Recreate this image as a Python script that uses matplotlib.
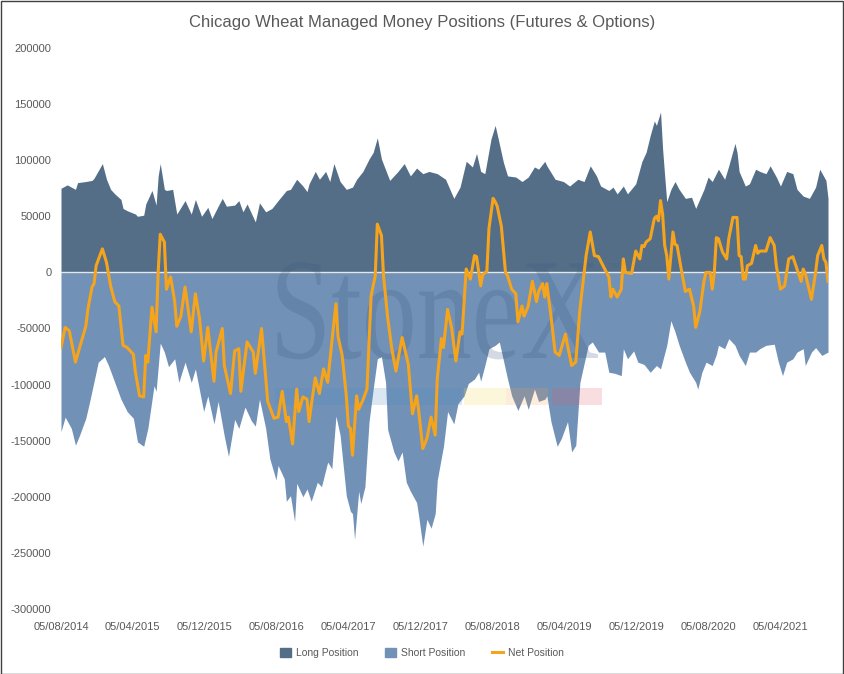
import numpy as np
import pandas as pd
import matplotlib
matplotlib.use("Agg")
from matplotlib import pyplot as plt
from matplotlib.patches import Patch, Rectangle, PathPatch
from matplotlib.lines import Line2D
from matplotlib.textpath import TextPath
from matplotlib.font_manager import FontProperties
from matplotlib.transforms import Affine2D

plt.rcParams['font.family'] = ['Liberation Sans', 'DejaVu Sans']

# settimane dal 05/08/2014 (dati COT settimanali), valori in migliaia di contratti
start = pd.Timestamp('2014-08-05')

long_week = [0, 3, 7, 8, 12, 15, 16, 20, 22, 24, 26, 29, 30, 32, 36, 37, 40, 41, 44, 46,
             47, 48, 50, 51, 54, 56, 60, 63, 65, 68, 71, 73, 76, 78, 80, 84, 86, 88, 90, 94,
             96, 99, 102, 105, 109, 111, 114, 117, 119, 120, 123, 125, 128, 130, 132, 135, 138, 141, 143, 146,
             149, 151, 153, 155, 159, 163, 166, 169, 172, 175, 178, 182, 186, 190, 193, 196, 199, 201, 203, 205,
             208, 210, 211, 214, 216, 220, 223, 226, 229, 231, 234, 235, 239, 243, 246, 250, 253, 256, 259, 261,
             265, 267, 269, 272, 274, 278, 281, 283, 285, 287, 288, 290, 291, 292, 293, 295, 297, 299, 302, 305,
             307, 311, 313, 315, 318, 321, 323, 326, 327, 328, 331, 333, 336, 338, 341, 343, 346, 348, 351, 354,
             356, 359, 362, 365, 367, 370, 371]
long_val = [75, 78, 74, 80, 81, 82, 84, 97, 83, 74, 70, 65, 57, 55, 52, 50, 51, 61, 73, 60,
            86, 97, 74, 73, 74, 52, 64, 52, 65, 50, 58, 48, 59, 66, 59, 60, 64, 54, 61, 45,
            62, 54, 57, 64, 73, 74, 83, 77, 72, 79, 90, 83, 90, 81, 97, 81, 74, 76, 83, 90,
            101, 107, 120, 101, 82, 90, 97, 86, 93, 88, 90, 88, 83, 66, 76, 99, 94, 106, 90, 88,
            119, 131, 123, 98, 86, 85, 81, 85, 94, 92, 99, 95, 83, 81, 77, 83, 81, 95, 86, 77,
            73, 76, 70, 77, 70, 79, 99, 107, 122, 135, 131, 143, 110, 86, 63, 74, 81, 74, 66, 67,
            57, 74, 85, 81, 92, 83, 95, 115, 107, 90, 77, 79, 92, 90, 88, 95, 85, 77, 90, 88,
            74, 68, 66, 76, 92, 82, 66]

short_week = [0, 2, 5, 7, 9, 12, 14, 16, 18, 21, 23, 26, 29, 32, 35, 37, 40, 42, 45, 46,
              48, 50, 52, 55, 57, 60, 63, 65, 69, 71, 74, 76, 79, 81, 84, 86, 89, 92, 94, 96,
              99, 101, 104, 105, 108, 109, 111, 113, 114, 117, 119, 121, 124, 126, 129, 131, 133, 135, 138, 140,
              141, 142, 144, 145, 147, 149, 151, 153, 155, 157, 158, 161, 163, 165, 167, 169, 172, 173, 175, 177,
              179, 181, 182, 185, 187, 190, 192, 195, 197, 200, 202, 203, 205, 207, 210, 212, 216, 218, 221, 224,
              226, 229, 231, 234, 235, 237, 240, 242, 245, 247, 249, 251, 255, 257, 260, 263, 265, 268, 271, 272,
              274, 277, 279, 282, 285, 288, 290, 293, 295, 297, 299, 302, 304, 307, 308, 310, 312, 315, 317, 318,
              321, 323, 326, 328, 331, 333, 336, 338, 341, 345, 347, 349, 351, 354, 356, 359, 360, 363, 365, 368,
              371]
short_val = [-142, -129, -139, -154, -145, -130, -114, -97, -80, -75, -83, -98, -113, -124, -130, -151, -155, -139, -101, -106,
             -63, -71, -84, -77, -98, -80, -98, -86, -124, -110, -135, -115, -146, -164, -131, -139, -120, -132, -137, -113,
             -139, -166, -185, -172, -184, -204, -199, -222, -188, -200, -193, -204, -187, -191, -169, -175, -128, -145, -199, -213,
             -215, -238, -195, -206, -191, -133, -104, -77, -75, -98, -140, -160, -168, -160, -187, -195, -205, -217, -244, -220,
             -228, -215, -185, -155, -124, -135, -117, -110, -99, -95, -89, -97, -83, -68, -65, -62, -95, -110, -123, -110,
             -122, -104, -115, -113, -110, -133, -155, -148, -133, -160, -154, -98, -65, -62, -71, -71, -89, -90, -92, -68,
             -77, -70, -80, -82, -89, -83, -86, -65, -43, -53, -65, -80, -89, -98, -104, -89, -80, -83, -73, -65,
             -68, -59, -65, -74, -83, -71, -71, -68, -65, -64, -80, -92, -80, -77, -71, -68, -83, -71, -67, -74,
             -71]

net_week = [0, 2, 4, 7, 9, 12, 13, 15, 16, 17, 20, 22, 24, 26, 28, 30, 32, 35, 36, 38,
            40, 41, 42, 44, 46, 47, 48, 50, 51, 53, 55, 56, 58, 60, 63, 65, 67, 69, 71, 74,
            75, 78, 79, 82, 84, 86, 87, 90, 93, 94, 97, 100, 103, 105, 107, 109, 110, 112, 114, 115,
            117, 119, 120, 121, 123, 125, 127, 129, 131, 133, 134, 136, 138, 139, 140, 141, 143, 144, 146, 148,
            150, 152, 153, 155, 156, 158, 160, 162, 165, 168, 170, 172, 173, 175, 177, 179, 181, 182, 184, 185,
            187, 189, 191, 193, 194, 196, 198, 200, 201, 203, 204, 206, 207, 209, 210, 211, 213, 215, 216, 218,
            220, 221, 223, 224, 226, 228, 230, 231, 233, 234, 235, 237, 239, 241, 244, 245, 247, 249, 251, 254,
            256, 258, 260, 263, 265, 266, 267, 269, 271, 272, 273, 276, 278, 280, 281, 282, 283, 285, 287, 288,
            289, 290, 291, 292, 293, 294, 296, 297, 298, 300, 302, 304, 306, 307, 309, 311, 312, 314, 315, 316,
            317, 318, 320, 322, 323, 325, 327, 328, 329, 330, 331, 332, 334, 336, 337, 338, 341, 343, 345, 346,
            348, 350, 352, 354, 356, 358, 359, 360, 363, 365, 366, 368, 369, 370, 371]
net_val = [-67, -49, -52, -80, -67, -48, -33, -13, -10, 6, 21, 9, -12, -26, -30, -65, -67, -73, -89, -110,
           -111, -74, -80, -31, -53, 0, 34, 27, -15, -4, -26, -48, -39, -13, -53, -19, -41, -79, -49, -97,
           -71, -50, -83, -108, -70, -68, -106, -62, -71, -90, -50, -115, -130, -129, -106, -133, -129, -153, -104, -124,
           -111, -113, -133, -119, -94, -108, -86, -98, -62, -28, -57, -74, -110, -137, -139, -163, -110, -122, -114, -104,
           -21, -3, 43, 33, -3, -40, -68, -88, -58, -82, -126, -110, -123, -157, -148, -129, -145, -95, -59, -67,
           -33, -50, -79, -53, -55, 3, -6, 15, 14, -12, -2, 1, 39, 66, 63, 59, 41, 0, -3, -15,
           -19, -44, -30, -39, -30, -8, -26, -17, -10, -22, -10, -39, -71, -74, -55, -65, -83, -80, -33, 15,
           36, 15, 14, 3, -4, -22, -15, -22, -15, 12, 0, -1, 19, 12, 24, 23, 27, 30, 48, 50,
           46, 64, 52, 24, 15, -6, 36, 25, 24, 3, -17, -15, -30, -49, -35, -8, 0, 0, -15, 0,
           31, 30, 18, 12, 30, 49, 49, 15, 14, -6, -6, 6, 8, 24, 17, 19, 19, 31, 24, 6,
           -15, -12, 12, 14, 3, -8, 3, -1, -24, 0, 15, 24, 12, 9, -8]

tick_labels = ['05/08/2014', '05/04/2015', '05/12/2015', '05/08/2016', '05/04/2017', '05/12/2017',
               '05/08/2018', '05/04/2019', '05/12/2019', '05/08/2020', '05/04/2021']
y_ticks = list(range(-300000, 200001, 50000))

def to_dates(weeks):
    return start + pd.to_timedelta(np.array(weeks) * 7, unit='D')

long_dates = to_dates(long_week)
short_dates = to_dates(short_week)
net_dates = to_dates(net_week)

col_long = '#546e88'
col_short = '#7191b7'
col_net = '#f5a41c'
grigio = '#595959'

fig = plt.figure(figsize=(8.44, 6.74), dpi=100)
ax = fig.add_axes([61 / 844, 1 - 609 / 674, 767 / 844, 561 / 674])

ax.fill_between(long_dates, 0, np.array(long_val) * 1000, color=col_long, linewidth=0, zorder=1)
ax.fill_between(short_dates, 0, np.array(short_val) * 1000, color=col_short, linewidth=0, zorder=1)
ax.axhline(0, color='#e6e6e6', linewidth=1, zorder=2)

# filigrana StoneX
tp = TextPath((0, 0), 'StoneX', size=1, prop=FontProperties(family='Liberation Serif'))
wm = Affine2D().scale(0.1434, 0.258).translate(209 / 767, (609 - 358) / 561) + ax.transAxes
ax.add_patch(PathPatch(tp, transform=wm, facecolor='#3d5a80', edgecolor='none', alpha=0.22, zorder=2))
ax.text(549 / 767, (609 - 268) / 561, 'TM', transform=ax.transAxes, fontsize=5, color='#3d5a80',
        alpha=0.25, zorder=2)
bar = [(214, 187, '#4d8fc4'), (403, 42, '#f2d84a'), (445, 42, '#f0a04b'), (491, 50, '#e05a66')]
for x0, w, c in bar:
    ax.add_patch(Rectangle((x0 / 767, (609 - 405) / 561), w / 767, 17 / 561, transform=ax.transAxes,
                           facecolor=c, edgecolor='none', alpha=0.2, zorder=2))

ax.plot(net_dates, np.array(net_val) * 1000, color=col_net, linewidth=2.2, zorder=3,
        solid_joinstyle='round')

ax.set_xlim(start, net_dates.max())
ax.set_ylim(-300000, 200000)
ax.set_yticks(y_ticks)
ax.set_yticklabels([str(v) for v in y_ticks])
ax.set_xticks(pd.to_datetime(tick_labels, dayfirst=True))
ax.set_xticklabels(tick_labels)
ax.tick_params(axis='both', length=0, labelsize=8, colors=grigio)
ax.tick_params(axis='y', pad=7)
ax.tick_params(axis='x', pad=9)
for s in ax.spines.values():
    s.set_visible(False)

fig.text(0.5, 1 - 22 / 674, 'Chicago Wheat Managed Money Positions (Futures & Options)',
         ha='center', va='center', fontsize=12, color=grigio)

handles = [Patch(color=col_long, label='Long Position'),
           Patch(color=col_short, label='Short Position'),
           Line2D([0], [0], color=col_net, linewidth=2.2, label='Net Position')]
fig.legend(handles=handles, loc='center', bbox_to_anchor=(0.5, 1 - 653 / 674), ncol=3, frameon=False,
           fontsize=7.5, labelcolor=grigio, handlelength=1.0, handleheight=0.9, columnspacing=2.6,
           handletextpad=0.5)

fig.add_artist(Rectangle((0.5 / 844, 0.5 / 674), 842.5 / 844, 672.5 / 674, transform=fig.transFigure,
                         facecolor='none', edgecolor='#404040', linewidth=1))

fig.savefig('out.png', dpi=100)
